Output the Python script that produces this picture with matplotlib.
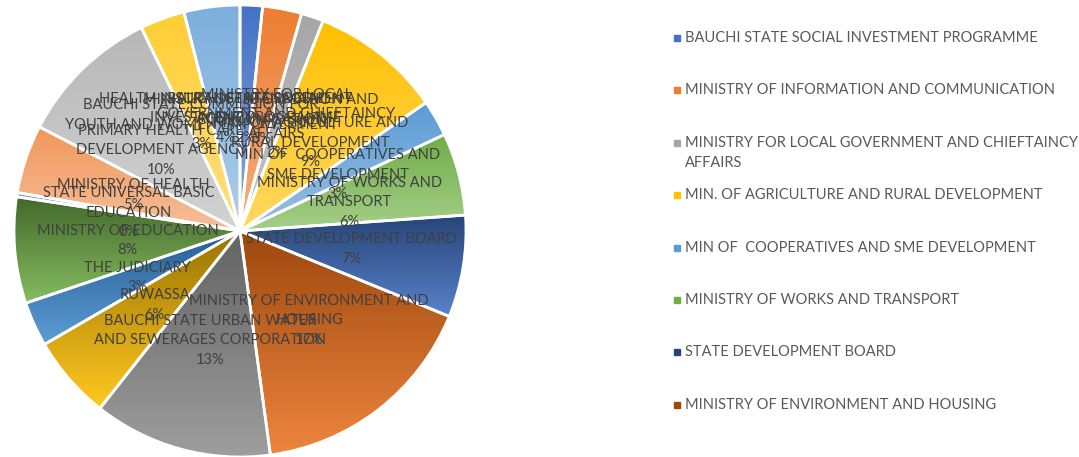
import textwrap
import colorsys
import numpy as np
import matplotlib
matplotlib.use('Agg')
import matplotlib.pyplot as plt
from matplotlib.colors import LinearSegmentedColormap, to_rgb
from matplotlib.patches import Rectangle

plt.rcParams['font.family'] = ['Lato', 'DejaVu Sans']

# slices, clockwise from 12 o'clock
names = [
    'BAUCHI STATE SOCIAL INVESTMENT PROGRAMME',
    'MINISTRY OF INFORMATION AND COMMUNICATION',
    'MINISTRY FOR LOCAL GOVERNMENT AND CHIEFTAINCY AFFAIRS',
    'MIN. OF AGRICULTURE AND RURAL DEVELOPMENT',
    'MIN OF  COOPERATIVES AND SME DEVELOPMENT',
    'MINISTRY OF WORKS AND TRANSPORT',
    'STATE DEVELOPMENT BOARD',
    'MINISTRY OF ENVIRONMENT AND HOUSING',
    'BAUCHI STATE URBAN WATER AND SEWERAGES CORPORATION',
    'RUWASSA',
    'THE JUDICIARY',
    'MINISTRY OF EDUCATION',
    'STATE UNIVERSAL BASIC EDUCATION',
    'MINISTRY OF HEALTH',
    'PRIMARY HEALTH CARE DEVELOPMENT AGENCY',
    'BAUCHI STATE COMMISSION FOR YOUTH AND WOMEN EMPOWERMENT',
    'HEALTH INSURANCE MANAGEMENT AGENCY',
]
values = [1.6, 2.8, 1.6, 9.4, 2.6, 5.9, 7.3, 16.7, 12.8, 6.0, 3.2, 7.6, 0.3, 4.9, 10.2, 3.2, 4.0]
colors = ['#4472C4', '#ED7D31', '#A5A5A5', '#FFC000', '#5B9BD5', '#70AD47',
          '#264478', '#9E480E', '#636363', '#997300', '#255E91', '#43682B',
          '#698ED0', '#F1975A', '#B7B7B7', '#FFCD33', '#7CAFDD']
n_legend = 8


def lighter(c, k=0.38):
    h, l, s = colorsys.rgb_to_hls(*to_rgb(c))
    return colorsys.hls_to_rgb(h, l + (1 - l) * k, s)


W, H = 1079, 457
fig = plt.figure(figsize=(W / 100, H / 100), dpi=100)
cx, cy, r = 240, 231, 226
ax = fig.add_axes([(cx - r) / W, (H - cy - r) / H, 2 * r / W, 2 * r / H])

wedges, texts, autotexts = ax.pie(
    values, colors=colors, startangle=90, counterclock=False,
    autopct='%1.0f%%', pctdistance=0.5,
    wedgeprops=dict(edgecolor='white', linewidth=2),
    textprops=dict(color='#404040', fontsize=10.5))

for t, name in zip(autotexts, names):
    t.set_text(textwrap.fill(name, 27) + '\n' + t.get_text())
    t.set_linespacing(1.5)

# vertical gradient inside every slice, dark at top
grad = np.linspace(0, 1, 256).reshape(-1, 1)
for w, c in zip(wedges, colors):
    v = w.get_path().vertices
    x0, y0 = v.min(axis=0)
    x1, y1 = v.max(axis=0)
    cmap = LinearSegmentedColormap.from_list('g', [c, lighter(c)])
    im = ax.imshow(grad, extent=[x0, x1, y0, y1], origin='upper', cmap=cmap,
                   aspect='auto', interpolation='bilinear', zorder=0.5)
    im.set_clip_path(w)
    w.set_facecolor('none')

ax.set_xlim(-1, 1)
ax.set_ylim(-1, 1)
ax.set_aspect('equal')
ax.axis('off')

# legend (only the first entries fit, like the original)
for i in range(n_legend):
    y = 38 + i * 52.4
    fig.add_artist(Rectangle((674 / W, 1 - (y + 3) / H), 6 / W, 6 / H,
                             transform=fig.transFigure, color=colors[i]))
    for j, line in enumerate(textwrap.wrap(names[i], 46)):
        fig.text(685 / W, 1 - (y + j * 20) / H, line, fontsize=10.5,
                 color='#595959', va='center', ha='left')

fig.savefig('out.png', dpi=100)
